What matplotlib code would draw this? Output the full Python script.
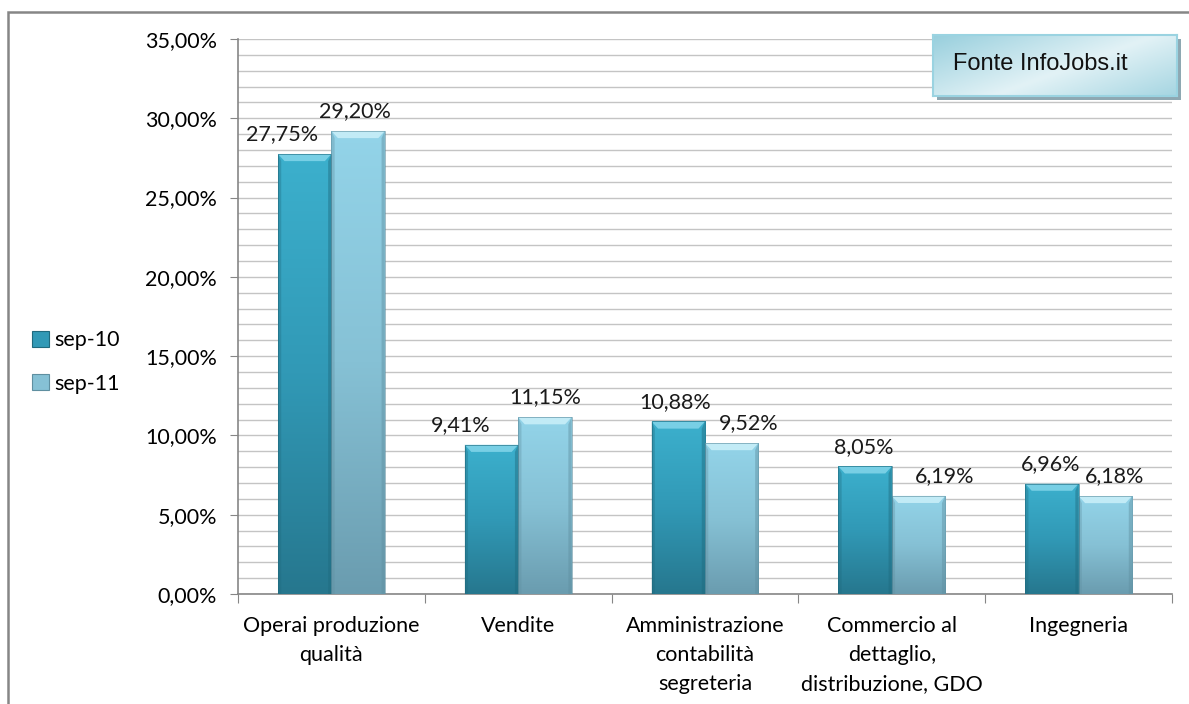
import numpy as np
import matplotlib
matplotlib.use("Agg")
import matplotlib.pyplot as plt
from matplotlib.patches import Rectangle, Polygon
from matplotlib.colors import LinearSegmentedColormap
from matplotlib.ticker import MultipleLocator, FuncFormatter

# dati
categorie = ["Operai produzione\nqualità", "Vendite", "Amministrazione\ncontabilità\nsegreteria",
             "Commercio al\ndettaglio,\ndistribuzione, GDO", "Ingegneria"]
serie = ["sep-10", "sep-11"]
sep10 = [27.75, 9.41, 10.88, 8.05, 6.96]
sep11 = [29.20, 11.15, 9.52, 6.19, 6.18]
fonte = "Fonte InfoJobs.it"

# stile
plt.rcParams['font.family'] = ['Lato', 'DejaVu Sans']
FS = 15.5
colori = {
    "sep-10": dict(top="#3cb0cd", mid="#3199b6", bot="#26778e", bevel="#7fd3e8", edge="#1f6a7e"),
    "sep-11": dict(top="#93d4e9", mid="#86c1d5", bot="#6a9caf", bevel="#c8eef8", edge="#5f8fa0"),
}
W, H, DPI = 1189, 704, 100
fig = plt.figure(figsize=(W / DPI, H / DPI), dpi=DPI)

# cornice esterna
fig.patches.append(Rectangle((8 / W, -0.1), 1.2, (H - 12) / H + 0.1, transform=fig.transFigure,
                             fill=False, edgecolor="#868686", linewidth=1.8, zorder=0))

ax = fig.add_axes([238 / W, (H - 594) / H, (1172 - 238) / W, (594 - 39) / H])
ax.set_ylim(0, 35)
ax.set_xlim(-0.5, len(categorie) - 0.5)

# griglia
ax.yaxis.set_major_locator(MultipleLocator(5))
ax.yaxis.set_minor_locator(MultipleLocator(1))
ax.grid(True, which="both", axis="y", color="#c4c4c4", linewidth=1.0, zorder=0)
ax.set_axisbelow(True)
ax.yaxis.set_major_formatter(FuncFormatter(lambda v, p: f"{v:.2f}%".replace(".", ",")))
ax.tick_params(axis="y", which="major", length=6, color="#868686", pad=9, labelsize=FS)
ax.tick_params(axis="y", which="minor", length=0)

# assi x: tacche ai bordi, etichette al centro
x = np.arange(len(categorie))
ax.set_xticks(np.arange(len(categorie) + 1) - 0.5)
ax.set_xticklabels([])
ax.set_xticks(x, minor=True)
ax.set_xticklabels(categorie, minor=True, fontsize=FS, linespacing=1.55)
ax.tick_params(axis="x", which="major", length=6.5, color="#868686")
ax.tick_params(axis="x", which="minor", length=0, pad=16)
for s in ["top", "right"]:
    ax.spines[s].set_visible(False)
for s in ["left", "bottom"]:
    ax.spines[s].set_color("#868686")
    ax.spines[s].set_linewidth(1.2)

bw = 0.286
# spostamenti etichette (px) per evitare sovrapposizioni
off = {"sep-10": [-16, -22, -2, -1, -1], "sep-11": [-2, 0, 12, 19, 7]}


def barra_sfumata(rect, c):
    x0, y0 = rect.get_x(), rect.get_y()
    w, h = rect.get_width(), rect.get_height()
    cmap = LinearSegmentedColormap.from_list("g", [c["bot"], c["mid"], c["top"]])
    grad = np.linspace(0, 1, 256).reshape(-1, 1)
    im = ax.imshow(grad, cmap=cmap, origin="lower", aspect="auto",
                   extent=(x0, x0 + w, y0, y0 + h), zorder=3)
    im.set_clip_path(rect)
    # smusso superiore
    dx, dy = 0.035, 0.45
    ax.add_patch(Polygon([(x0, h), (x0 + w, h), (x0 + w - dx, h - dy), (x0 + dx, h - dy)],
                         closed=True, facecolor=c["bevel"], edgecolor="none", alpha=0.9, zorder=4))
    # bordi laterali scuri
    ax.add_patch(Polygon([(x0, 0), (x0, h), (x0 + dx * 0.5, h - dy), (x0 + dx * 0.5, 0)],
                         closed=True, facecolor=c["edge"], edgecolor="none", alpha=0.35, zorder=4))
    ax.add_patch(Polygon([(x0 + w, 0), (x0 + w, h), (x0 + w - dx * 0.5, h - dy), (x0 + w - dx * 0.5, 0)],
                         closed=True, facecolor=c["edge"], edgecolor="none", alpha=0.45, zorder=4))
    ax.add_patch(Rectangle((x0, y0), w, h, fill=False, edgecolor=c["edge"], linewidth=0.6,
                           alpha=0.7, zorder=5))


handles = []
for i, (nome, vals) in enumerate(zip(serie, [sep10, sep11])):
    c = colori[nome]
    bars = ax.bar(x + (i - 0.5) * bw, vals, width=bw, color=c["mid"], edgecolor="none",
                  zorder=2, label=nome)
    handles.append(bars)
    for b, v, o in zip(bars, vals, off[nome]):
        barra_sfumata(b, c)
        ax.annotate(f"{v:.2f}%".replace(".", ","), (b.get_x() + b.get_width() / 2, v),
                    xytext=(o, 7), textcoords="offset points", ha="center", va="bottom",
                    fontsize=FS, color="#1a1a1a", zorder=6)

# legenda
leg = fig.legend(handles=handles, labels=serie, loc="center left",
                 bbox_to_anchor=(13 / W, (H - 362) / H), frameon=False, fontsize=FS,
                 handlelength=0.75, handleheight=0.75, handletextpad=0.25, labelspacing=1.1)
for h, nome in zip(leg.legend_handles, serie):
    h.set_facecolor(colori[nome]["mid"])
    h.set_edgecolor(colori[nome]["edge"])
    h.set_linewidth(0.8)

# riquadro fonte con ombra
bx0, by0, bw_, bh_ = 933 / W, (H - 96) / H, 244 / W, 61 / H
fig.patches.append(Rectangle((bx0 + 4 / W, by0 - 4 / H), bw_, bh_, transform=fig.transFigure,
                             facecolor="#8ea8b2", edgecolor="none", zorder=1))
bax = fig.add_axes([bx0, by0, bw_, bh_], zorder=5)
gx, gy = np.meshgrid(np.linspace(0, 1, 200), np.linspace(0, 1, 60))
gval = np.clip(1 - np.abs((gx * 0.6 + (1 - gy) * 0.4) - 0.55) * 1.7, 0, 1)
bcmap = LinearSegmentedColormap.from_list("b", ["#98cfdd", "#e2f2f6"])
bax.imshow(gval, cmap=bcmap, aspect="auto", extent=(0, 1, 0, 1), origin="lower")
bax.set_xlim(0, 1)
bax.set_ylim(0, 1)
bax.set_xticks([])
bax.set_yticks([])
for s in bax.spines.values():
    s.set_color("#9ad3e1")
    s.set_linewidth(1.5)
bax.text(0.08, 0.52, fonte, ha="left", va="center", fontsize=17,
         family=["Liberation Sans", "DejaVu Sans"], color="#111111")

fig.savefig("out.png", dpi=DPI)
